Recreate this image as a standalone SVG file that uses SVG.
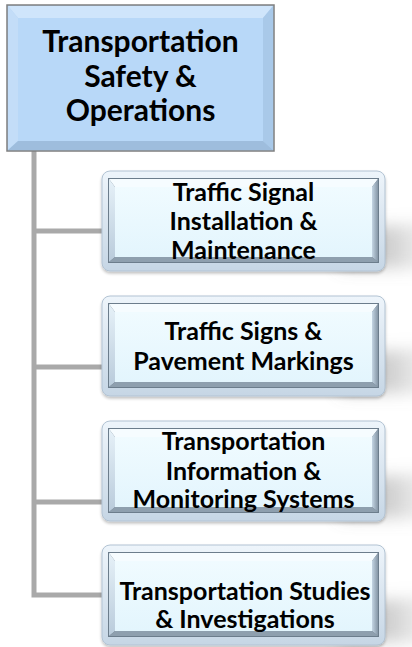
<svg xmlns="http://www.w3.org/2000/svg" xmlns:xlink="http://www.w3.org/1999/xlink" width="412" height="647" viewBox="0 0 412 647">
  <style>
    .t { font-family: Lato, "Open Sans", "Liberation Sans", sans-serif; font-weight: bold; fill: #000; text-anchor: middle; }
    .top { font-size: 30px; }
    .ch { font-size: 25px; }
    .conn { fill: none; stroke: #a9a9a9; stroke-width: 5; stroke-linejoin: miter; stroke-linecap: butt; }
  </style>
  <defs>
    <linearGradient id="rim" x1="0" y1="0" x2="0" y2="1">
      <stop offset="0" stop-color="#eef5fb"/>
      <stop offset="1" stop-color="#c6d6e5"/>
    </linearGradient>
    <linearGradient id="leftB" x1="0" y1="0" x2="0" y2="1">
      <stop offset="0" stop-color="#e6f1f8"/>
      <stop offset="1" stop-color="#b9cbdb"/>
    </linearGradient>
    <linearGradient id="rightB" x1="0" y1="0" x2="1" y2="0">
      <stop offset="0" stop-color="#c4d5e3"/>
      <stop offset="1" stop-color="#8596a6"/>
    </linearGradient>
    <linearGradient id="face" x1="0" y1="0" x2="0" y2="1">
      <stop offset="0" stop-color="#f0fbff"/>
      <stop offset="1" stop-color="#e3f5fd"/>
    </linearGradient>
    <linearGradient id="shade" x1="0" y1="0" x2="1" y2="0">
      <stop offset="0" stop-color="#777" stop-opacity="0.55"/>
      <stop offset="0.55" stop-color="#888" stop-opacity="0.4"/>
      <stop offset="1" stop-color="#aaa" stop-opacity="0.15"/>
    </linearGradient>
    <filter id="blur" x="-50%" y="-50%" width="200%" height="200%">
      <feGaussianBlur stdDeviation="8"/>
    </filter>
    <filter id="soft" x="-10%" y="-10%" width="120%" height="130%">
      <feGaussianBlur in="SourceAlpha" stdDeviation="1.5"/>
      <feOffset dy="1.5" result="b"/>
      <feComponentTransfer><feFuncA type="linear" slope="0.25"/></feComponentTransfer>
      <feMerge><feMergeNode/><feMergeNode in="SourceGraphic"/></feMerge>
    </filter>
    <g id="childBox">
      <polygon points="340,58 430,52 430,98 340,96" fill="url(#shade)" filter="url(#blur)"/>
      <rect x="102" y="0" width="283" height="100" rx="8" fill="url(#rim)" stroke="#b2c3d3" stroke-width="1" filter="url(#soft)"/>
      <rect x="108" y="7" width="271" height="85" fill="#6c7d8c"/>
      <polygon points="109,8 378,8 372,16 115,16" fill="#f6fcff"/>
      <polygon points="109,8 115,16 115,86 109,91" fill="url(#leftB)"/>
      <polygon points="378,8 378,91 372,86 372,16" fill="url(#rightB)"/>
      <polygon points="109,91 378,91 372,86 115,86" fill="#8e9fae"/>
      <rect x="115" y="16" width="257" height="70" fill="url(#face)"/>
    </g>
  </defs>

  <g id="connectors">
    <path class="conn" d="M34,151 V595 H102"/>
    <path class="conn" d="M34,231 H102"/>
    <path class="conn" d="M34,367 H102"/>
    <path class="conn" d="M34,502 H102"/>
  </g>

  <g id="node-root">
    <rect x="7" y="5" width="267" height="146" fill="#b4d5f6" stroke="#7f7f7f" stroke-width="1.5"/>
    <polygon points="8,6 273,6 263,18 18,18" fill="#cfe5fb"/>
    <polygon points="8,6 18,18 18,141 8,150" fill="#c3ddf8"/>
    <polygon points="273,6 273,150 263,141 263,18" fill="#a9c9e9"/>
    <polygon points="8,150 273,150 263,141 18,141" fill="#9ebddd"/>
    <rect x="18" y="18" width="245" height="123" fill="#b8d8f8"/>
    <text class="t top" x="140.5" y="52">Transportation</text>
    <text class="t top" x="140.5" y="87">Safety &amp;</text>
    <text class="t top" x="140.5" y="121">Operations</text>
  </g>

  <g id="node-signal" transform="translate(0,171)">
    <use xlink:href="#childBox" href="#childBox"/>
    <text class="t ch" x="243.5" y="30">Traffic Signal</text>
    <text class="t ch" x="243.5" y="59">Installation &amp;</text>
    <text class="t ch" x="243.5" y="88">Maintenance</text>
  </g>

  <g id="node-signs" transform="translate(0,296)">
    <use xlink:href="#childBox" href="#childBox"/>
    <text class="t ch" x="243.5" y="44">Traffic Signs &amp;</text>
    <text class="t ch" x="243.5" y="74">Pavement Markings</text>
  </g>

  <g id="node-info" transform="translate(0,421)">
    <use xlink:href="#childBox" href="#childBox"/>
    <text class="t ch" x="243.5" y="29">Transportation</text>
    <text class="t ch" x="243.5" y="59">Information &amp;</text>
    <text class="t ch" x="243.5" y="87">Monitoring Systems</text>
  </g>

  <g id="node-studies" transform="translate(0,545)">
    <use xlink:href="#childBox" href="#childBox"/>
    <text class="t ch" x="245" y="55">Transportation Studies</text>
    <text class="t ch" x="245" y="83">&amp; Investigations</text>
  </g>
</svg>
